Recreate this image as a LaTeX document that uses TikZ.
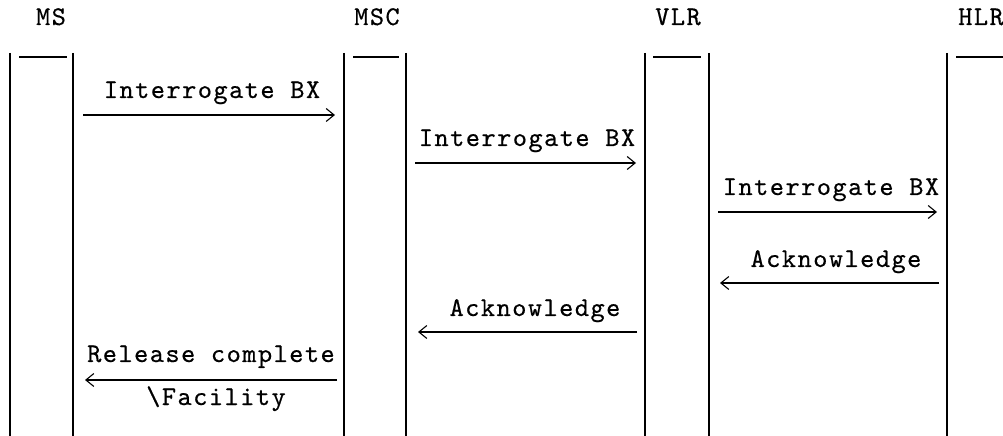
\documentclass[tikz,border=0pt]{standalone}
\usepackage{fontspec}
\newfontfamily\cour{lmmono10-regular.otf}[LetterSpace=5.5,FakeBold=0.5]
\usetikzlibrary{arrows.meta}
\begin{document}
\begin{tikzpicture}[x=1bp,y=-1bp,
  lbl/.style={font=\fontsize{27bp}{30bp}\cour, inner sep=0pt, anchor=base},
  life/.style={line width=1.6bp},
  bar/.style={line width=1.6bp},
  msg/.style={line width=1.3bp, -{Straight Barb[length=8bp,width=13bp,line width=1.1bp]}}]
\useasboundingbox (0,0) rectangle (1003,436);
% headers
\node[lbl] (hMS)  at (51,25)  {MS};
\node[lbl] (hMSC) at (377,25) {MSC};
\node[lbl] (hVLR) at (678,25) {VLR};
\node[lbl] (hHLR) at (981,25) {HLR};
% lifeline coordinates
\foreach \n/\x in {msA/10, msB/73, mscA/344, mscB/406, vlrA/645, vlrB/709, hlrA/947}{
  \coordinate (\n-t) at (\x,53);
  \coordinate (\n-b) at (\x,438);
}
\foreach \n in {msA, msB, mscA, mscB, vlrA, vlrB, hlrA}{
  \draw[life] (\n-t) -- (\n-b);
}
% top bars
\coordinate (barMS-l) at (19,57);   \coordinate (barMS-r) at (67,57);
\coordinate (barMSC-l) at (353,57); \coordinate (barMSC-r) at (399,57);
\coordinate (barVLR-l) at (653,57); \coordinate (barVLR-r) at (701,57);
\coordinate (barHLR-l) at (956,57); \coordinate (barHLR-r) at (1004,57);
\draw[bar] (barMS-l) -- (barMS-r);
\draw[bar] (barMSC-l) -- (barMSC-r);
\draw[bar] (barVLR-l) -- (barVLR-r);
\draw[bar] (barHLR-l) -- (barHLR-r);
% message 1
\node[lbl] (t1) at (212,98) {Interrogate BX};
\coordinate (m1s) at (83,115);  \coordinate (m1e) at (335,115);
\draw[msg] (m1s) -- (m1e);
% message 2
\node[lbl] (t2) at (527,146) {Interrogate BX};
\coordinate (m2s) at (415,163); \coordinate (m2e) at (636,163);
\draw[msg] (m2s) -- (m2e);
% message 3
\node[lbl] (t3) at (831,195) {Interrogate BX};
\coordinate (m3s) at (718,212); \coordinate (m3e) at (937,212);
\draw[msg] (m3s) -- (m3e);
% message 4
\node[lbl] (t4) at (836,267) {Acknowledge};
\coordinate (m4s) at (939,283); \coordinate (m4e) at (720,283);
\draw[msg] (m4s) -- (m4e);
% message 5
\node[lbl] (t5) at (535,316) {Acknowledge};
\coordinate (m5s) at (637,332); \coordinate (m5e) at (418,332);
\draw[msg] (m5s) -- (m5e);
% message 6
\node[lbl] (t6) at (211,362) {Release complete};
\coordinate (m6s) at (337,380); \coordinate (m6e) at (85,380);
\draw[msg] (m6s) -- (m6e);
\node[lbl] (t7) at (216,405) {\textbackslash Facility};
\end{tikzpicture}
\end{document}
